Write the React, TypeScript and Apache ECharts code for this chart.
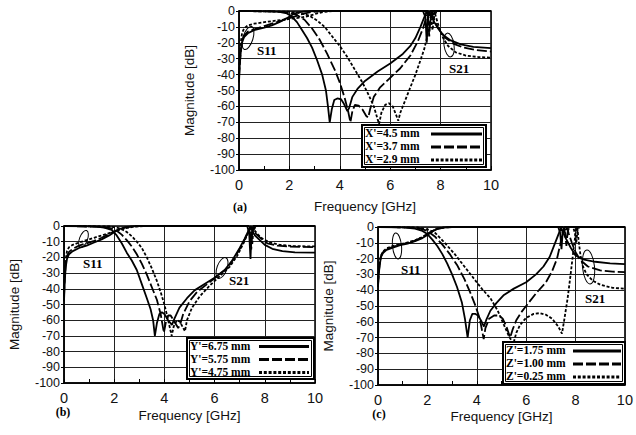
import React, { useEffect, useRef } from "react";
import * as echarts from "echarts";

// ---------- labels ----------
const legendA = ["X'=4.5 mm", "X'=3.7 mm", "X'=2.9 mm"];
const legendB = ["Y'=6.75 mm", "Y'=5.75 mm", "Y'=4.75 mm"];
const legendC = ["Z'=1.75 mm", "Z'=1.00 mm", "Z'=0.25 mm"];
const panelTags = ["(a)", "(b)", "(c)"];
const xTitle = "Frequency [GHz]";
const yTitle = "Magnitude [dB]";

// ---------- panel (a) ----------
const a_s11_1 = [[0,-45],[0.03,-34],[0.07,-26],[0.12,-20],[0.2,-16.5],[0.35,-14],[0.6,-12],[1.0,-10.5],[1.3,-9],[1.6,-7],[1.9,-4.5],[2.1,-2.5],[2.3,-1],[2.6,-0.3],[3,0],[7.3,0],[7.4,-4],[7.45,-20],[7.5,-3],[7.6,0],[10,0]];
const a_s11_2 = [[0,-42],[0.03,-33],[0.07,-25],[0.12,-19],[0.2,-15.5],[0.35,-13],[0.6,-11.5],[1.0,-9.5],[1.4,-7.5],[1.8,-5.5],[2.2,-3.5],[2.5,-2],[2.8,-0.8],[3.2,-0.2],[3.6,0],[7.4,0],[7.5,-3],[7.55,-16],[7.6,-3],[7.7,0],[10,0]];
const a_s11_3 = [[0,-40],[0.03,-30],[0.07,-20],[0.12,-14],[0.2,-11],[0.35,-9],[0.6,-8],[1.0,-7],[1.5,-6],[2.0,-5],[2.5,-4],[2.8,-3],[3.1,-1.5],[3.4,-0.5],[3.8,0],[7.5,0],[7.6,-3],[7.68,-12],[7.75,-3],[7.85,0],[10,0]];
const a_s21_1 = [[0,0],[1.2,-0.2],[1.6,-0.6],[1.9,-1.5],[2.1,-3.5],[2.3,-7],[2.5,-12],[2.7,-17],[2.9,-23],[3.1,-31],[3.3,-40],[3.45,-50],[3.53,-60],[3.6,-70],[3.68,-62],[3.78,-56],[3.9,-55],[4.05,-55.5],[4.15,-58],[4.3,-63],[4.37,-61],[4.5,-54],[4.7,-49],[5.0,-44],[5.5,-38],[6.0,-33],[6.5,-27],[6.8,-22],[7.0,-17],[7.2,-10],[7.35,-4],[7.45,-0.5],[7.5,-2],[7.55,-0.3],[7.62,-3],[7.75,-7],[7.9,-11],[8.1,-15],[8.4,-18.5],[8.8,-21],[9.3,-22.5],[10,-23.3]];
const a_s21_2 = [[0,0],[1.5,-0.3],[2.0,-1],[2.3,-2.5],[2.6,-5.5],[2.9,-11],[3.2,-18],[3.5,-27],[3.8,-37],[4.0,-45],[4.2,-55],[4.33,-63],[4.42,-70],[4.5,-63],[4.6,-59],[4.75,-59.5],[4.9,-62],[5.05,-66],[5.13,-67],[5.2,-62],[5.35,-54],[5.6,-48],[6.0,-42],[6.4,-36],[6.8,-28],[7.1,-19],[7.3,-11],[7.45,-3],[7.52,-0.3],[7.58,-3],[7.63,-0.5],[7.7,-4],[7.85,-9],[8.0,-13],[8.2,-17],[8.5,-20.5],[8.9,-23],[9.4,-24.5],[10,-25.5]];
const a_s21_3 = [[0,0],[2.0,-0.5],[2.5,-1.5],[2.8,-3],[3.1,-6],[3.4,-10],[3.7,-16],[4.0,-22],[4.3,-29],[4.6,-37],[4.9,-45],[5.15,-53],[5.35,-60],[5.5,-68],[5.56,-71],[5.65,-64],[5.8,-59],[5.95,-58],[6.1,-60],[6.25,-66],[6.32,-69],[6.4,-64],[6.6,-56],[6.8,-48],[7.0,-40],[7.2,-31],[7.35,-24],[7.5,-14],[7.6,-6],[7.67,-1],[7.72,-3],[7.76,-0.5],[7.82,-4],[7.95,-11],[8.1,-17],[8.3,-22],[8.6,-26],[9.0,-28],[9.5,-29],[10,-29.3]];

// ---------- panel (b) ----------
const b_s11_1 = [[0,-48],[0.03,-35],[0.07,-26],[0.12,-21],[0.2,-18],[0.35,-16],[0.6,-14],[0.9,-12.5],[1.2,-10.5],[1.5,-8.5],[1.8,-6],[2.0,-4],[2.2,-2],[2.5,-0.6],[2.9,0],[7.3,0],[7.38,-5],[7.43,-21],[7.47,-5],[7.55,0],[10,0]];
const b_s11_2 = [[0,-45],[0.03,-33],[0.07,-24],[0.12,-19],[0.2,-16.5],[0.35,-14.5],[0.6,-12.5],[0.9,-11],[1.2,-9.5],[1.5,-7.5],[1.8,-5],[2.0,-3.5],[2.3,-1.5],[2.6,-0.5],[3,0],[7.35,0],[7.42,-6],[7.46,-15],[7.5,-4],[7.6,0],[10,0]];
const b_s11_3 = [[0,-42],[0.03,-30],[0.07,-21],[0.12,-16],[0.2,-13.5],[0.35,-12],[0.6,-10.5],[0.9,-9],[1.2,-7.5],[1.5,-6],[1.8,-4.5],[2.1,-3],[2.4,-1.5],[2.8,-0.4],[3.2,0],[7.4,0],[7.46,-5],[7.5,-12],[7.54,-3],[7.65,0],[10,0]];
const b_s21_1 = [[0,0],[1.2,-0.3],[1.6,-1],[1.9,-2.5],[2.1,-6],[2.3,-11],[2.5,-17],[2.7,-22],[2.9,-28],[3.1,-37],[3.3,-46],[3.45,-53],[3.55,-60],[3.62,-70],[3.7,-62],[3.8,-56],[3.9,-55],[4.0,-56],[4.15,-60],[4.3,-63],[4.4,-59],[4.6,-52],[4.9,-46],[5.2,-41],[5.6,-37],[6.0,-33],[6.4,-28],[6.7,-22],[7.0,-14],[7.2,-8],[7.35,-3],[7.43,0],[7.5,-3],[7.6,-6],[7.8,-9],[8.0,-12],[8.3,-14.5],[8.7,-16],[9.2,-16.8],[10,-17]];
const b_s21_2 = [[0,0],[1.5,-0.5],[1.9,-1.5],[2.1,-3],[2.3,-5.5],[2.5,-9],[2.7,-13],[2.9,-18],[3.1,-24],[3.3,-31],[3.5,-39],[3.7,-47],[3.85,-56],[3.98,-68],[4.05,-62],[4.15,-57],[4.25,-57],[4.4,-61],[4.55,-65],[4.62,-63],[4.75,-56],[5.0,-48],[5.3,-42],[5.7,-37],[6.1,-32],[6.5,-27],[6.8,-20],[7.1,-12],[7.3,-5],[7.42,-0.5],[7.5,-2],[7.65,-5],[7.85,-8],[8.1,-11],[8.5,-12.5],[9,-13.2],[10,-13.5]];
const b_s21_3 = [[0,0],[1.8,-0.3],[2.1,-1],[2.3,-2],[2.5,-3.8],[2.7,-6.5],[2.9,-10],[3.1,-14],[3.3,-20],[3.5,-27],[3.7,-35],[3.85,-42],[4.0,-50],[4.15,-60],[4.29,-70],[4.37,-64],[4.5,-60],[4.62,-61],[4.75,-65],[4.82,-67],[4.9,-60],[5.1,-52],[5.4,-45],[5.8,-38],[6.2,-32],[6.6,-26],[6.9,-19],[7.15,-11],[7.35,-4],[7.45,-0.5],[7.55,-2],[7.7,-5],[7.9,-8],[8.2,-10.5],[8.6,-12],[9.1,-12.8],[10,-13]];

// ---------- panel (c) ----------
const c_s11_1 = [[0,-38],[0.03,-30],[0.07,-24],[0.12,-19],[0.2,-16.5],[0.35,-14.5],[0.6,-13],[0.9,-11.5],[1.2,-10.5],[1.5,-9],[1.8,-7],[2.0,-5],[2.2,-2.8],[2.4,-1.2],[2.7,-0.3],[3,0],[7.3,0],[7.38,-4],[7.43,-14],[7.48,-3],[7.55,0],[10,0]];
const c_s11_2 = [[0,-37],[0.03,-29],[0.07,-23],[0.12,-18.5],[0.2,-16],[0.35,-14],[0.6,-12.5],[0.9,-11.2],[1.2,-10],[1.5,-8.6],[1.8,-6.5],[2.0,-4.6],[2.2,-2.6],[2.4,-1.1],[2.7,-0.3],[3,0],[7.5,0],[7.58,-4],[7.63,-12],[7.68,-3],[7.75,0],[10,0]];
const c_s11_3 = [[0,-36],[0.03,-28],[0.07,-22],[0.12,-18],[0.2,-15.5],[0.35,-13.5],[0.6,-12],[0.9,-11],[1.2,-9.8],[1.5,-8.4],[1.8,-6.3],[2.0,-4.4],[2.2,-2.5],[2.4,-1],[2.7,-0.3],[3,0],[7.9,0],[7.98,-4],[8.03,-10],[8.08,-2],[8.15,0],[10,0]];
const c_s21_1 = [[0,0],[1.0,-0.2],[1.5,-1],[1.8,-2.5],[2.0,-4.5],[2.2,-8],[2.4,-12],[2.6,-17],[2.8,-23],[3.0,-30],[3.2,-38],[3.4,-48],[3.52,-58],[3.63,-70],[3.72,-59],[3.82,-55],[3.95,-55],[4.05,-56],[4.2,-60],[4.29,-63],[4.38,-59],[4.55,-53],[4.8,-48],[5.1,-43],[5.5,-39],[6.0,-35],[6.4,-30],[6.7,-25],[6.95,-19],[7.15,-11],[7.3,-5],[7.41,-0.5],[7.48,-3],[7.6,-7],[7.8,-13],[8.0,-18],[8.3,-20.5],[8.8,-22],[9.4,-23],[10,-23.5]];
const c_s21_2 = [[0,0],[1.3,-0.3],[1.7,-1],[2.0,-2.5],[2.3,-6],[2.6,-11],[2.9,-17],[3.2,-24],[3.5,-33],[3.75,-42],[3.95,-50],[4.12,-58],[4.22,-66],[4.28,-71],[4.35,-64],[4.5,-58],[4.7,-56],[4.9,-56],[5.05,-58],[5.2,-63],[5.35,-70],[5.45,-65],[5.6,-59],[5.8,-54],[6.1,-48],[6.4,-42],[6.8,-35],[7.05,-28],[7.25,-20],[7.38,-11],[7.48,-3],[7.54,0],[7.6,-3],[7.66,-0.5],[7.72,-4],[7.85,-10],[8.0,-16],[8.2,-21],[8.5,-25],[9.0,-27.5],[9.5,-28.3],[10,-28.5]];
const c_s21_3 = [[0,0],[1.6,-0.3],[2.0,-1.5],[2.3,-3.5],[2.7,-10],[3.1,-17],[3.5,-25],[3.9,-33],[4.2,-39],[4.55,-45],[4.85,-53],[5.1,-62],[5.3,-69],[5.48,-74],[5.6,-67],[5.75,-62],[6.0,-57.5],[6.3,-55],[6.55,-54.5],[6.8,-55.5],[7.05,-58],[7.3,-63],[7.45,-67.5],[7.55,-58],[7.68,-45],[7.8,-30],[7.92,-14],[8.02,-2],[8.07,0],[8.12,-8],[8.2,-18],[8.3,-25],[8.45,-30],[8.7,-34],[9.0,-36.5],[9.5,-38.5],[10,-39]];

const panelData = [
  { s11: [a_s11_1, a_s11_2, a_s11_3], s21: [a_s21_1, a_s21_2, a_s21_3], legend: legendA },
  { s11: [b_s11_1, b_s11_2, b_s11_3], s21: [b_s21_1, b_s21_2, b_s21_3], legend: legendB },
  { s11: [c_s11_1, c_s11_2, c_s11_3], s21: [c_s21_1, c_s21_2, c_s21_3], legend: legendC },
];

// ---------- layout (pixels) ----------
const SANS = "'Liberation Sans', Arial, sans-serif";
const SERIF = "'Liberation Serif', 'Times New Roman', serif";
const lineTypes: any[] = ["solid", [10, 3], [3, 1.8]];

const layout = [
  { grid: { left: 239, top: 11, width: 252, height: 159 }, xGap: 29, tag: [240, 207],
    legendBox: [362, 125, 124, 42], legendText: 365, legendLine: [431, 482], rows: [133, 146, 159],
    s11Ell: [248, 38, 5, 12, -0.3], s11Txt: [257, 50], s21Ell: [449, 45, 5, 12, 0.15], s21Txt: [449, 68] },
  { grid: { left: 64, top: 226, width: 251, height: 157 }, xGap: 25, tag: [63, 412],
    legendBox: [187, 338, 127, 41], legendText: 190, legendLine: [259, 309], rows: [345.5, 358.5, 371.5],
    s11Ell: [83.5, 239, 4, 9, -0.35], s11Txt: [83, 263], s21Ell: [222, 268, 5, 11, -0.35], s21Txt: [229, 280] },
  { grid: { left: 378, top: 227, width: 251, height: 158 }, xGap: 24, tag: [379, 414],
    legendBox: [503, 342, 122, 42], legendText: 506, legendLine: [573, 621], rows: [350, 363, 376],
    s11Ell: [397, 246, 4.5, 13, 0.1], s11Txt: [401, 269], s21Ell: [588.5, 267, 6, 17, 0.1], s21Txt: [585, 298] },
];

function buildOption() {
  const grid: any[] = [];
  const xAxis: any[] = [];
  const yAxis: any[] = [];
  const series: any[] = [];
  const graphic: any[] = [];

  layout.forEach((L, i) => {
    grid.push({ ...L.grid, show: true, borderColor: "#000", borderWidth: 1.5, backgroundColor: "transparent" });
    xAxis.push({
      type: "value", gridIndex: i, min: 0, max: 10, interval: 2,
      name: xTitle, nameLocation: "middle", nameGap: L.xGap,
      nameTextStyle: { fontFamily: SANS, fontSize: 13.5, color: "#111" },
      axisLine: { show: true, onZero: false, lineStyle: { color: "#000", width: 1.5 } },
      axisTick: { show: true, inside: true, length: 4, lineStyle: { color: "#000" } },
      minorTick: { show: true, splitNumber: 2, length: 4, lineStyle: { color: "#000" } },
      axisLabel: { fontFamily: SANS, fontSize: 14.5, color: "#111", margin: 7 },
      splitLine: { show: true, lineStyle: { color: "#222", width: 1 } },
    });
    yAxis.push({
      type: "value", gridIndex: i, min: -100, max: 0, interval: 10,
      name: yTitle, nameLocation: "middle", nameGap: 43,
      nameTextStyle: { fontFamily: SANS, fontSize: 13.5, color: "#111" },
      axisLine: { show: true, onZero: false, lineStyle: { color: "#000", width: 1.5 } },
      axisTick: { show: true, inside: false, length: 3, lineStyle: { color: "#000" } },
      axisLabel: { fontFamily: SANS, fontSize: 12.5, color: "#111", margin: 4 },
      splitLine: { show: true, lineStyle: { color: "#222", width: 1 } },
    });
    const P = panelData[i];
    [P.s11, P.s21].forEach((group, gi) => {
      group.forEach((d, k) => {
        series.push({
          type: "line", name: (gi === 0 ? "S11 " : "S21 ") + P.legend[k],
          xAxisIndex: i, yAxisIndex: i, data: d, showSymbol: false, symbol: "none",
          lineStyle: { color: "#000", width: 1.8, type: lineTypes[k] }, z: 5,
        });
      });
    });

    // legend box
    const [bx, by, bw, bh] = L.legendBox;
    graphic.push({ type: "rect", shape: { x: bx, y: by, width: bw, height: bh }, style: { fill: "#fff", stroke: "#000", lineWidth: 2 }, z: 20 });
    graphic.push({ type: "rect", shape: { x: bx + 2.5, y: by + 2.5, width: bw - 5, height: bh - 5 }, style: { fill: "#fff", stroke: "#000", lineWidth: 1 }, z: 21 });
    P.legend.forEach((t, k) => {
      graphic.push({ type: "text", x: L.legendText, y: L.rows[k], style: { text: t, font: `bold 11.5px ${SERIF}`, fill: "#000", verticalAlign: "middle", align: "left" }, z: 22 });
      graphic.push({ type: "line", shape: { x1: L.legendLine[0], y1: L.rows[k] + 1, x2: L.legendLine[1], y2: L.rows[k] + 1 },
        style: { stroke: "#000", lineWidth: 3, lineDash: k === 0 ? null : lineTypes[k] }, z: 22 });
    });
    // annotations
    const e1 = L.s11Ell, e2 = L.s21Ell;
    graphic.push({ type: "ellipse", x: e1[0], y: e1[1], rotation: e1[4], shape: { cx: 0, cy: 0, rx: e1[2], ry: e1[3] }, style: { fill: "none", stroke: "#000", lineWidth: 1 }, z: 15 });
    graphic.push({ type: "ellipse", x: e2[0], y: e2[1], rotation: e2[4], shape: { cx: 0, cy: 0, rx: e2[2], ry: e2[3] }, style: { fill: "none", stroke: "#000", lineWidth: 1 }, z: 15 });
    graphic.push({ type: "text", x: L.s11Txt[0], y: L.s11Txt[1], style: { text: "S11", font: `bold 13px ${SERIF}`, fill: "#000", verticalAlign: "middle" }, z: 15 });
    graphic.push({ type: "text", x: L.s21Txt[0], y: L.s21Txt[1], style: { text: "S21", font: `bold 13px ${SERIF}`, fill: "#000", verticalAlign: "middle" }, z: 15 });
    graphic.push({ type: "text", x: L.tag[0], y: L.tag[1], style: { text: panelTags[i], font: `bold 12px ${SERIF}`, fill: "#000", verticalAlign: "middle", align: "center" }, z: 15 });
  });

  return { animation: false, backgroundColor: "#fff", grid, xAxis, yAxis, series, graphic };
}

export default function App() {
  const ref = useRef<HTMLDivElement>(null);
  useEffect(() => {
    if (!ref.current) return;
    const chart = echarts.init(ref.current, undefined, { renderer: "svg" });
    chart.setOption(buildOption());
    return () => chart.dispose();
  }, []);
  return <div ref={ref} style={{ position: "fixed", left: 0, top: 0, width: 636, height: 435, background: "#fff" }} />;
}
